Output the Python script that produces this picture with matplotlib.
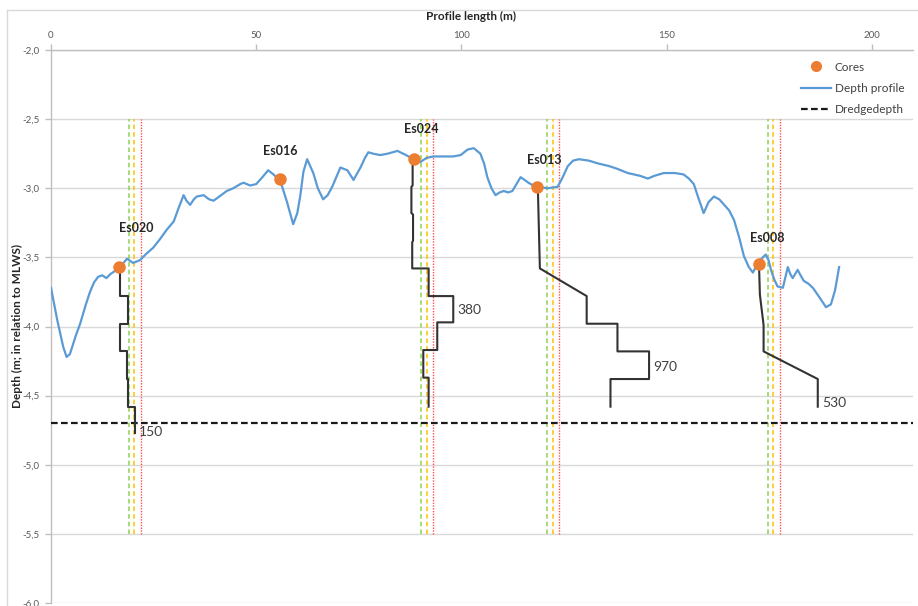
import matplotlib
matplotlib.use("Agg")
import matplotlib.pyplot as plt
from matplotlib.lines import Line2D
from matplotlib.ticker import FixedLocator, FuncFormatter

plt.rcParams['font.family'] = ['Lato', 'DejaVu Sans']

# ---------------- data ----------------
profile_x = [0, 1.5, 3, 3.8, 4.6, 6, 7.1, 8.5, 9.5, 10.5, 11.5, 12.5, 13.5, 14.5, 15.5, 16.8,
             18.5, 20, 21.7, 23, 24.9, 26.5, 28.2, 29.9, 31, 32.3, 33, 33.9, 34.8, 35.5, 37.2,
             38.5, 39.6, 41, 42.8, 44.4, 46.1, 46.9, 48.5, 50, 51.5, 52.9, 54.2, 55.9, 57.5,
             59, 60, 60.7, 61.5, 62.4, 63.9, 65, 66.3, 67.4, 68.5, 70.5, 72.2, 73.7, 75.4,
             76.5, 77.3, 78.5, 80.2, 82, 84.4, 86.5, 88.3, 90, 91.5, 93.2, 96, 98, 99.8, 101.5,
             103, 104.6, 105.5, 106.3, 107.3, 108.3, 109.3, 110.3, 111.4, 112.4, 113.4, 114.4,
             115.4, 116.3, 117.5, 118.5, 121, 123.4, 124.5, 125.9, 127.2, 128.6, 131, 133.2,
             136, 138, 140.5, 142, 143.5, 145.4, 147, 149.3, 152, 154.1, 155.4, 156.6, 157.6,
             159, 160.2, 161.5, 162.8, 164, 165.2, 166.4, 167.6, 168.8, 170, 171, 172.4, 174.1,
             174.8, 175.4, 176.2, 177, 178.3, 179.5, 180.1, 180.7, 181.9, 182.6, 183.4, 184.5,
             185.6, 187, 188.8, 190, 191, 192]
profile_depth = [-3.72, -3.95, -4.15, -4.22, -4.20, -4.07, -3.98, -3.84, -3.75, -3.68, -3.64,
                 -3.63, -3.65, -3.62, -3.60, -3.57, -3.51, -3.54, -3.52, -3.48, -3.43, -3.37,
                 -3.30, -3.24, -3.15, -3.05, -3.09, -3.12, -3.08, -3.06, -3.05, -3.08, -3.09,
                 -3.06, -3.02, -3.00, -2.97, -2.96, -2.98, -2.97, -2.92, -2.87, -2.90, -2.95,
                 -3.10, -3.26, -3.18, -3.06, -2.88, -2.79, -2.89, -3.00, -3.08, -3.05, -2.99,
                 -2.85, -2.87, -2.94, -2.85, -2.78, -2.74, -2.75, -2.76, -2.75, -2.73, -2.76,
                 -2.79, -2.81, -2.78, -2.77, -2.77, -2.77, -2.76, -2.72, -2.71, -2.75, -2.82,
                 -2.92, -3.00, -3.05, -3.03, -3.02, -3.03, -3.02, -2.97, -2.92, -2.94, -2.96,
                 -2.98, -2.99, -3.00, -2.99, -2.93, -2.84, -2.80, -2.79, -2.80, -2.82, -2.84,
                 -2.86, -2.89, -2.90, -2.91, -2.93, -2.91, -2.89, -2.89, -2.90, -2.93, -2.97,
                 -3.06, -3.18, -3.10, -3.06, -3.08, -3.12, -3.16, -3.23, -3.35, -3.49, -3.57,
                 -3.61, -3.53, -3.48, -3.52, -3.59, -3.66, -3.71, -3.72, -3.57, -3.62, -3.65,
                 -3.59, -3.63, -3.67, -3.69, -3.72, -3.78, -3.86, -3.84, -3.74, -3.57]

core_names = ["Es020", "Es016", "Es024", "Es013", "Es008"]
core_x = [16.6, 55.9, 88.5, 118.5, 172.4]
core_depth = [-3.57, -2.93, -2.79, -2.99, -3.55]

dredge_depth = -4.7

# reference lines beside cores (green / yellow / red)
green_x = [19.0, 90.2, 120.9, 174.7]
yellow_x = [20.2, 91.5, 122.3, 176.0]
red_x = [21.9, 93.0, 123.7, 177.6]

# step profiles below cores
step1_x = [16.7, 16.7, 18.7, 18.7, 16.8, 16.8, 18.5, 18.5, 18.8, 18.8, 20.4, 20.4]
step1_d = [-3.58, -3.78, -3.78, -3.98, -3.98, -4.18, -4.18, -4.38, -4.38, -4.58, -4.58, -4.77]
step2_x = [88.1, 88.1, 87.8, 87.8, 88.2, 88.2, 88.0, 88.0, 92.0, 92.0, 98.0, 98.0, 94.1, 94.1,
           90.7, 90.7, 92.0, 92.0]
step2_d = [-2.79, -2.98, -2.99, -3.18, -3.19, -3.38, -3.39, -3.58, -3.58, -3.78, -3.78, -3.97,
           -3.97, -4.17, -4.17, -4.37, -4.37, -4.58]
step3_x = [118.6, 119.1, 130.5, 130.5, 138.0, 138.0, 145.7, 145.7, 136.3, 136.3]
step3_d = [-2.99, -3.58, -3.78, -3.98, -3.98, -4.18, -4.18, -4.38, -4.38, -4.58]
step4_x = [172.5, 172.7, 173.6, 173.6, 186.8, 186.8]
step4_d = [-3.57, -3.77, -3.99, -4.18, -4.38, -4.58]
step_labels = ["150", "380", "970", "530"]
step_label_depth = [-4.76, -3.88, -4.29, -4.55]

x_ticks = [0, 50, 100, 150, 200]
y_ticks = [-2.0, -2.5, -3.0, -3.5, -4.0, -4.5, -5.0, -5.5, -6.0]

# ---------------- figure ----------------
W, H = 918, 606
fig = plt.figure(figsize=(W / 100, H / 100), dpi=100)
fig.patch.set_facecolor('white')

# chart-area border
fig.add_artist(Line2D([7 / W, 7 / W], [0, 1 - 10 / H], color='#d9d9d9', lw=1, transform=fig.transFigure))
fig.add_artist(Line2D([7 / W, 917 / W], [1 - 10 / H, 1 - 10 / H], color='#d9d9d9', lw=1, transform=fig.transFigure))

ax = fig.add_axes([51 / W, 1 - 603 / H, (913 - 51) / W, (603 - 50) / H])
ax.set_xlim(0, 210)
ax.set_ylim(-6.0, -2.0)

for s in ['right', 'bottom']:
    ax.spines[s].set_visible(False)
for s in ['left', 'top']:
    ax.spines[s].set_color('#bfbfbf')
    ax.spines[s].set_linewidth(1)

ax.xaxis.tick_top()
ax.xaxis.set_label_position('top')
ax.xaxis.set_major_locator(FixedLocator(x_ticks))
ax.yaxis.set_major_locator(FixedLocator(y_ticks))
ax.yaxis.set_major_formatter(FuncFormatter(lambda v, p: f"{v:.1f}".replace('.', ',')))
ax.tick_params(axis='both', colors='#bfbfbf', labelcolor='#595959', labelsize=7, length=4, width=1)
ax.tick_params(axis='x', pad=3)
ax.tick_params(axis='y', pad=4)

for yv in y_ticks:
    ax.axhline(yv, color='#d9d9d9', lw=1, zorder=0)

ax.set_xlabel("Profile length (m)", fontsize=8.5, fontweight='bold', color='#262626')
ax.set_ylabel("Depth (m; in relation to MLWS)", fontsize=8.5, fontweight='bold', color='#262626')
ax.xaxis.set_label_coords((471 - 51) / 862, 1 + 30 / 553)
ax.yaxis.set_label_coords((23 - 51) / 862, 0.5)

# vertical reference lines
ax.vlines(green_x, -5.5, -2.5, colors='#92d050', linestyles=(0, (3, 2)), lw=1.1, zorder=1)
ax.vlines(yellow_x, -5.5, -2.5, colors='#ffc000', linestyles=(0, (3, 2)), lw=1.1, zorder=1)
ax.vlines(red_x, -5.5, -2.5, colors='#ff5050', linestyles=(0, (1, 1)), lw=1.0, zorder=1)

# dredge depth
ax.axhline(dredge_depth, color='#1a1a1a', lw=1.6, ls=(0, (3, 1.5)), zorder=3)

# step profiles
steps = [(step1_x, step1_d), (step2_x, step2_d), (step3_x, step3_d), (step4_x, step4_d)]
for (sx, sd), lab, ld in zip(steps, step_labels, step_label_depth):
    ax.plot(sx, sd, color='#333333', lw=1.5, zorder=4)
    ax.annotate(lab, (max(sx), ld), xytext=(3, 0), textcoords='offset points',
                ha='left', va='center', fontsize=10, color='#404040')

# depth profile
ax.plot(profile_x, profile_depth, color='#5b9bd5', lw=1.6, zorder=5)

# cores
ax.plot(core_x, core_depth, 'o', color='#ed7d31', ms=9, zorder=6, markeredgewidth=0)
label_offsets = [(12, 28), (0, 20), (5, 22), (5, 19), (6, 19)]
for n, cx, cd, off in zip(core_names, core_x, core_depth, label_offsets):
    ax.annotate(n, (cx, cd), xytext=off, textcoords='offset points', ha='center', va='center',
                fontsize=9, fontweight='bold', color='#262626', zorder=7)

handles = [Line2D([], [], marker='o', ls='none', color='#ed7d31', ms=8, markeredgewidth=0),
           Line2D([], [], color='#5b9bd5', lw=1.6),
           Line2D([], [], color='#1a1a1a', lw=1.6, ls=(0, (3, 1.5)))]
leg = fig.legend(handles, ["Cores", "Depth profile", "Dredgedepth"], loc='upper left',
                 bbox_to_anchor=(790 / W, 1 - 51 / H), frameon=False, fontsize=8.5,
                 handlelength=2.6, handletextpad=0.3, labelspacing=0.85, labelcolor='#404040')

fig.savefig("out.png", dpi=100)
